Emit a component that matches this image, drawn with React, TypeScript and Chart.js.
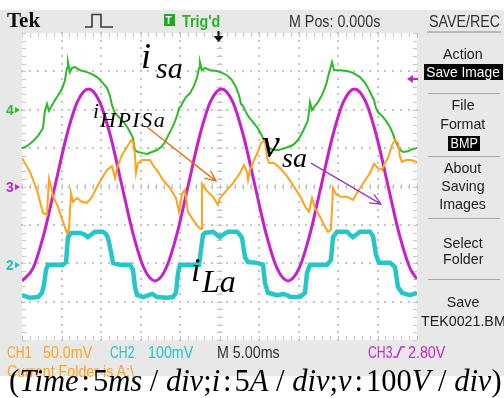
import React, { useEffect, useRef } from "react";
import { Chart, registerables } from "chart.js";
Chart.register(...registerables);

// Screen scales: time in ms (5 ms/div, 10 div), amplitude in screen divisions (8 div)
const TIME_MIN_MS = 0;
const TIME_MAX_MS = 50;
const DIV_MIN = -4;
const DIV_MAX = 4;

// v_sa (CH3, magenta) — screen divisions
const vsaT = [0, 1.40, 2.81, 4.21, 5.61, 7.02, 8.42, 9.82, 11.23, 12.63, 14.03, 15.44, 16.84, 18.24, 19.65, 21.05, 22.45, 23.86, 25.26, 26.66, 28.07, 29.47, 30.87, 32.28, 33.68, 35.08, 36.49, 37.89, 39.29, 40.70, 42.10, 43.50, 44.91, 46.31, 47.71, 49.12, 50.0];
const vsaDiv = [-2.46, -2.13, -1.21, 0.04, 1.29, 2.21, 2.54, 2.21, 1.29, 0.04, -1.21, -2.13, -2.46, -2.13, -1.21, 0.04, 1.29, 2.21, 2.54, 2.21, 1.29, 0.04, -1.21, -2.13, -2.46, -2.13, -1.21, 0.04, 1.29, 2.21, 2.54, 2.21, 1.29, 0.04, -1.21, -2.13, -2.41];

// i_sa (CH4, green)
const isaT = [0, 0.63, 1.39, 2.03, 2.66, 2.91, 3.16, 3.42, 3.80, 4.43, 5.06, 5.44, 5.70, 5.82, 6.08, 6.33, 6.71, 7.34, 8.23, 8.86, 9.49, 10.13, 10.76, 11.14, 11.39, 11.77, 12.41, 13.04, 13.42, 13.80, 14.05, 14.30, 14.68, 15.32, 15.82, 16.46, 17.09, 17.72, 18.10, 18.48, 18.86, 19.24, 19.62, 19.87, 20.13, 20.38, 20.76, 21.27, 21.77, 22.15, 22.41, 22.53, 22.78, 23.16, 23.80, 24.68, 25.32, 25.95, 26.58, 27.09, 27.47, 27.72, 27.97, 28.23, 28.61, 29.11, 29.75, 30.25, 30.63, 31.14, 31.77, 32.41, 33.04, 33.67, 34.30, 34.94, 35.44, 35.82, 36.20, 36.46, 36.71, 37.09, 37.47, 37.97, 38.48, 38.86, 39.11, 39.24, 39.49, 40.25, 41.14, 41.90, 42.78, 43.42, 43.80, 44.18, 44.56, 44.81, 45.06, 45.57, 46.08, 46.58, 46.96, 47.22, 47.59, 47.85, 48.23, 48.86, 49.49, 50.0];
const isaDiv = [1.00, 1.05, 1.18, 1.32, 1.52, 1.99, 2.15, 1.97, 2.12, 2.33, 2.54, 2.77, 3.09, 3.24, 2.98, 3.09, 3.11, 3.03, 2.98, 2.93, 2.85, 2.72, 2.57, 2.36, 2.12, 1.91, 1.78, 1.63, 1.52, 1.37, 1.26, 0.95, 0.90, 0.87, 0.85, 0.90, 0.95, 1.05, 1.16, 1.32, 1.47, 1.63, 1.84, 2.04, 2.10, 2.20, 2.33, 2.43, 2.62, 2.83, 3.09, 3.24, 3.03, 3.09, 3.03, 3.01, 2.96, 2.90, 2.77, 2.59, 2.38, 2.15, 2.10, 1.99, 1.84, 1.71, 1.55, 1.37, 1.21, 1.03, 0.95, 0.95, 0.98, 1.03, 1.08, 1.21, 1.39, 1.55, 1.73, 2.20, 1.99, 2.10, 2.20, 2.38, 2.64, 2.96, 3.14, 3.24, 3.03, 3.03, 3.01, 2.96, 2.85, 2.70, 2.57, 2.41, 2.25, 2.04, 1.94, 1.84, 1.71, 1.55, 1.37, 1.21, 1.05, 0.95, 0.90, 0.92, 0.98, 1.00];

// i_HPISa (CH1, orange)
const hpiT = [0, 0.38, 1.01, 1.90, 2.66, 3.16, 3.42, 3.67, 3.92, 4.56, 5.19, 5.70, 5.95, 6.20, 6.46, 6.96, 7.59, 8.23, 8.86, 9.49, 10.13, 10.76, 11.39, 11.77, 12.03, 12.66, 13.29, 13.80, 14.05, 14.30, 14.43, 14.68, 15.19, 16.20, 16.58, 17.22, 17.85, 18.73, 19.49, 19.87, 20.25, 20.63, 21.01, 21.65, 22.28, 22.66, 22.78, 23.42, 24.18, 24.81, 25.06, 25.95, 26.71, 27.59, 28.10, 28.48, 28.61, 28.86, 29.37, 29.87, 30.25, 30.76, 31.01, 31.27, 31.90, 32.66, 33.54, 34.30, 35.19, 35.95, 36.33, 36.71, 37.09, 37.72, 38.35, 38.73, 39.11, 39.37, 39.75, 40.38, 41.14, 41.90, 42.41, 43.16, 44.05, 44.56, 45.06, 45.57, 45.95, 46.33, 46.84, 47.22, 47.59, 47.85, 48.10, 48.61, 49.24, 50.0];
const hpiDiv = [0.74, 0.61, 0.38, -0.09, -0.69, -0.74, 0.20, 0.01, -0.25, -0.53, -0.92, -1.21, -1.13, -0.17, -0.40, -0.30, -0.40, -0.43, -0.27, -0.01, 0.22, 0.43, 0.53, 0.22, 0.48, 0.82, 1.03, 1.21, 1.16, 0.82, 0.35, 0.61, 0.69, 0.69, 0.56, 0.38, 0.17, -0.04, -0.30, -0.66, -0.20, -0.09, -0.66, -0.87, -1.05, -1.11, 0.07, -0.12, -0.27, -0.48, -0.30, -0.09, 0.09, 0.35, 0.56, 0.38, 0.17, 0.43, 0.69, 0.90, 1.13, 1.21, 0.77, 0.61, 0.61, 0.48, 0.27, 0.04, -0.25, -0.56, -0.66, -0.30, -0.56, -0.79, -1.05, -1.18, -1.13, -0.04, -0.20, -0.27, -0.27, -0.35, -0.17, 0.07, 0.35, 0.59, 0.48, 0.43, 0.61, 0.74, 1.08, 1.21, 1.13, 0.77, 0.64, 0.69, 0.69, 0.64];

// i_La (CH2, cyan)
const ilaT = [0, 1.01, 2.03, 2.53, 2.78, 3.04, 3.29, 5.19, 5.57, 5.82, 6.20, 7.34, 7.97, 8.35, 8.86, 9.24, 10.25, 10.63, 10.89, 11.27, 11.52, 12.41, 13.67, 14.05, 14.30, 14.56, 15.32, 16.46, 17.09, 18.35, 19.11, 19.49, 19.75, 20.0, 22.41, 22.66, 22.91, 23.16, 24.18, 24.68, 25.06, 25.57, 26.08, 27.22, 27.59, 27.85, 28.23, 28.61, 29.75, 30.51, 30.76, 31.14, 32.28, 33.04, 33.54, 33.92, 35.19, 35.82, 36.08, 36.46, 38.61, 39.11, 39.37, 39.87, 41.14, 41.52, 41.90, 42.41, 42.78, 44.05, 44.43, 44.81, 45.19, 46.58, 47.22, 47.59, 48.10, 49.11, 50.0];
const ilaDiv = [-2.83, -2.90, -2.88, -2.77, -2.57, -2.17, -2.04, -2.04, -1.97, -1.32, -1.21, -1.21, -1.26, -1.32, -1.24, -1.18, -1.18, -1.24, -1.34, -1.71, -1.99, -2.04, -2.04, -2.17, -2.62, -2.83, -2.88, -2.80, -2.88, -2.90, -2.88, -2.77, -2.25, -2.04, -2.04, -1.65, -1.26, -1.21, -1.18, -1.26, -1.32, -1.24, -1.18, -1.18, -1.26, -1.34, -1.84, -1.97, -1.99, -2.04, -2.51, -2.77, -2.83, -2.80, -2.83, -2.88, -2.88, -2.77, -2.25, -2.04, -2.04, -1.91, -1.32, -1.18, -1.18, -1.26, -1.32, -1.24, -1.18, -1.18, -1.29, -1.78, -1.99, -1.99, -2.10, -2.62, -2.77, -2.83, -2.77];

// annotation arrows [time ms, div]
const hpiArrowFrom = [15.82, 1.55];
const hpiArrowTo = [24.56, 0.14];
const vsaArrowFrom = [36.58, 0.61];
const vsaArrowTo = [45.44, -0.46];

const SANS = '"Liberation Sans", Arial, sans-serif';
const SERIF = '"Liberation Serif", "Times New Roman", serif';

type TP = { x: number; base: number; size: number; color: string; text: string; align?: "left" | "center"; sx?: number; bold?: boolean };
function T({ x, base, size, color, text, align = "left", sx = 0.84, bold = false }: TP) {
  const top = base - 0.846 * size;
  const style: React.CSSProperties = {
    position: "absolute",
    top,
    left: align === "center" ? x - 100 : x,
    width: align === "center" ? 200 : undefined,
    textAlign: align,
    lineHeight: `${size}px`,
    height: size,
    fontSize: size,
    fontFamily: SANS,
    color,
    fontWeight: bold ? 700 : 400,
    whiteSpace: "pre",
  };
  return (
    <div style={style}>
      <span style={{ display: "inline-block", transform: `scaleX(${sx})`, transformOrigin: align === "center" ? "center" : "left" }}>{text}</span>
    </div>
  );
}

type SP = { x: number; base: number; size: number; text: string; ls?: number };
function M({ x, base, size, text, ls = 0 }: SP) {
  return (
    <div style={{ position: "absolute", left: x, top: base - 0.84 * size, fontFamily: SERIF, fontStyle: "italic", fontSize: size, lineHeight: `${size}px`, color: "#000", whiteSpace: "pre", letterSpacing: ls }}>{text}</div>
  );
}

export default function App() {
  const ref = useRef<HTMLCanvasElement>(null);
  useEffect(() => {
    document.body.style.margin = "0";
    const pts = (t: number[], v: number[]) => t.slice(0, Math.min(t.length, v.length)).map((x, i) => ({ x, y: v[i] }));
    const gridPlugin = {
      id: "tekGrid",
      beforeDatasetsDraw(chart: any) {
        const { ctx, chartArea } = chart;
        const { left, top, right, bottom } = chartArea;
        const w = right - left, h = bottom - top;
        ctx.save();
        ctx.fillStyle = "#ffffff";
        ctx.fillRect(left, top, w, h);
        ctx.fillStyle = "#c4c4c4";
        for (let i = 1; i < 10; i++) {
          const x = left + (i * w) / 10;
          for (let j = 0; j <= 40; j++) {
            const y = top + (j * h) / 40;
            ctx.fillRect(Math.round(x) - 1, Math.round(y) - 1, 2, 2);
          }
        }
        for (let k = 1; k < 8; k++) {
          const y = top + (k * h) / 8;
          for (let j = 0; j <= 50; j++) {
            const x = left + (j * w) / 50;
            ctx.fillRect(Math.round(x) - 1, Math.round(y) - 1, 2, 2);
          }
        }
        ctx.strokeStyle = "#c4c4c4";
        ctx.lineWidth = 1;
        ctx.beginPath();
        const cx = left + w / 2, cy = top + h / 2;
        for (let j = 0; j <= 50; j++) {
          const x = Math.round(left + (j * w) / 50) + 0.5;
          ctx.moveTo(x, top); ctx.lineTo(x, top + 4);
          ctx.moveTo(x, bottom - 4); ctx.lineTo(x, bottom);
          ctx.moveTo(x, cy - 3); ctx.lineTo(x, cy + 3);
        }
        for (let j = 0; j <= 40; j++) {
          const y = Math.round(top + (j * h) / 40) + 0.5;
          ctx.moveTo(left, y); ctx.lineTo(left + 4, y);
          ctx.moveTo(right - 4, y); ctx.lineTo(right, y);
          ctx.moveTo(cx - 3, y); ctx.lineTo(cx + 3, y);
        }
        ctx.stroke();
        ctx.restore();
      },
    };
    const arrowPlugin = {
      id: "tekArrows",
      afterDatasetsDraw(chart: any) {
        const { ctx } = chart;
        const xs = chart.scales.x, ys = chart.scales.y;
        const draw = (from: number[], to: number[], color: string) => {
          const x1 = xs.getPixelForValue(from[0]), y1 = ys.getPixelForValue(from[1]);
          const x2 = xs.getPixelForValue(to[0]), y2 = ys.getPixelForValue(to[1]);
          const a = Math.atan2(y2 - y1, x2 - x1);
          const L = 12, sp = 0.42;
          ctx.save();
          ctx.strokeStyle = color;
          ctx.lineWidth = 1.3;
          ctx.beginPath();
          ctx.moveTo(x1, y1); ctx.lineTo(x2, y2);
          ctx.moveTo(x2 - L * Math.cos(a - sp), y2 - L * Math.sin(a - sp));
          ctx.lineTo(x2, y2);
          ctx.lineTo(x2 - L * Math.cos(a + sp), y2 - L * Math.sin(a + sp));
          ctx.stroke();
          ctx.restore();
        };
        draw(hpiArrowFrom, hpiArrowTo, "rgb(228,108,22)");
        draw(vsaArrowFrom, vsaArrowTo, "rgb(150,55,210)");
      },
    };
    const chart = new Chart(ref.current as HTMLCanvasElement, {
      type: "line",
      data: {
        datasets: [
          { label: "i_HPISa", data: pts(hpiT, hpiDiv), borderColor: "rgb(255,162,28)", borderWidth: 2, tension: 0, pointRadius: 0 },
          { label: "i_La", data: pts(ilaT, ilaDiv), borderColor: "rgb(38,198,200)", borderWidth: 4.5, tension: 0, pointRadius: 0 },
          { label: "i_sa", data: pts(isaT, isaDiv), borderColor: "rgb(44,186,40)", borderWidth: 2, tension: 0, pointRadius: 0 },
          { label: "v_sa", data: pts(vsaT, vsaDiv), borderColor: "rgb(198,32,200)", borderWidth: 3, cubicInterpolationMode: "monotone", pointRadius: 0 },
        ],
      },
      options: {
        responsive: false,
        animation: false,
        events: [],
        layout: { padding: 2 },
        plugins: { legend: { display: false }, tooltip: { enabled: false } },
        scales: {
          x: { type: "linear", min: TIME_MIN_MS, max: TIME_MAX_MS, display: false },
          y: { type: "linear", min: DIV_MIN, max: DIV_MAX, display: false },
        },
      },
      plugins: [gridPlugin, arrowPlugin],
    } as any);
    return () => chart.destroy();
  }, []);

  const menuC = 463;
  const menuCol = "#222";
  const sep = (y: number) => <div style={{ position: "absolute", left: 428, top: y, width: 72, height: 1, background: "#a8a8a8" }} />;
  const colon = <span style={{ margin: "0 3px" }}>:</span>;

  return (
    <div style={{ position: "fixed", left: 0, top: 0, width: 504, height: 398, background: "#fff", overflow: "hidden" }}>
      <div style={{ position: "absolute", left: 0, top: 10, width: 504, height: 366, background: "#e8e8e8" }} />
      <canvas ref={ref} width={399} height={311} style={{ position: "absolute", left: 20, top: 31, width: 399, height: 311 }} />
      <svg width={504} height={398} style={{ position: "absolute", left: 0, top: 0 }}>
        <polyline points="85,27 92,27 92,14.5 101,14.5 101,27 113,27" fill="none" stroke="#3a3a3a" strokeWidth={1.6} />
        <rect x={164} y={14} width={11} height={12} fill="rgb(30,172,30)" />
        <line x1={218.5} y1={31} x2={218.5} y2={37} stroke="#111" strokeWidth={2} />
        <polygon points="213.5,36 223.5,36 218.5,42" fill="#111" />
        <polygon points="407,79 413,75 413,83" fill="rgb(198,32,200)" />
        <line x1={412} y1={79} x2={418} y2={79} stroke="rgb(198,32,200)" strokeWidth={2} />
        <polygon points="15,107 15,113 20,110" fill="rgb(44,186,40)" />
        <polygon points="15,184 15,190 20,187" fill="rgb(198,32,200)" />
        <polygon points="15,262 15,268 20,265" fill="rgb(38,190,195)" />
        <polyline points="393,357 397,357 401,347 405,347" fill="none" stroke="rgb(200,40,200)" strokeWidth={1.6} />
        <line x1={427} y1={32} x2={501} y2={32} stroke="#8a8a8a" strokeWidth={1} />
      </svg>

      {/* header */}
      <div style={{ position: "absolute", left: 7, top: 28 - 0.84 * 21, fontFamily: SERIF, fontWeight: 700, fontSize: 21, lineHeight: "21px", color: "#111" }}>Tek</div>
      <T x={165.5} base={24.5} size={10} color="#fff" text="T" sx={1} bold />
      <T x={182} base={27} size={17} color="rgb(40,178,40)" text="Trig'd" bold sx={0.84} />
      <T x={289} base={27} size={17} color="#333" text="M Pos: 0.000s" />
      <T x={429} base={27} size={17} color="#333" text="SAVE/REC" />

      {/* channel markers */}
      <T x={6} base={115} size={14} color="rgb(44,186,40)" text="4" bold sx={1} />
      <T x={6} base={192} size={14} color="rgb(198,32,200)" text="3" bold sx={1} />
      <T x={6} base={270} size={14} color="rgb(38,190,195)" text="2" bold sx={1} />

      {/* right menu */}
      <T x={menuC} base={59} size={15} color={menuCol} text="Action" align="center" sx={0.95} />
      <div style={{ position: "absolute", left: 424, top: 64, width: 79, height: 16, background: "#000" }} />
      <T x={menuC} base={77} size={15} color="#fff" text="Save Image" align="center" sx={0.92} />
      {sep(93)}
      <T x={menuC} base={110} size={15} color={menuCol} text="File" align="center" sx={0.95} />
      <T x={menuC} base={129} size={15} color={menuCol} text="Format" align="center" sx={0.95} />
      <div style={{ position: "absolute", left: 448, top: 136, width: 32, height: 15, background: "#000" }} />
      <T x={464} base={148} size={14} color="#fff" text="BMP" align="center" sx={0.9} />
      {sep(156)}
      <T x={menuC} base={173} size={15} color={menuCol} text="About" align="center" sx={0.95} />
      <T x={menuC} base={191} size={15} color={menuCol} text="Saving" align="center" sx={0.95} />
      <T x={menuC} base={209} size={15} color={menuCol} text="Images" align="center" sx={0.95} />
      {sep(218)}
      <T x={menuC} base={248} size={15} color={menuCol} text="Select" align="center" sx={0.95} />
      <T x={menuC} base={264} size={15} color={menuCol} text="Folder" align="center" sx={0.95} />
      {sep(279)}
      <T x={menuC} base={307} size={15} color={menuCol} text="Save" align="center" sx={0.95} />
      <T x={421} base={326} size={15} color={menuCol} text="TEK0021.BMP" sx={0.95} />

      {/* status line */}
      <T x={7} base={358} size={17} color="rgb(250,165,40)" text="CH1" sx={0.72} />
      <T x={43} base={358} size={17} color="rgb(250,165,40)" text="50.0mV" />
      <T x={110} base={358} size={17} color="rgb(40,195,200)" text="CH2" sx={0.72} />
      <T x={148} base={358} size={17} color="rgb(40,195,200)" text="100mV" />
      <T x={217} base={358} size={17} color="#333" text="M 5.00ms" />
      <T x={368} base={358} size={17} color="rgb(200,40,200)" text="CH3" sx={0.72} />
      <T x={408} base={358} size={17} color="rgb(200,40,200)" text="2.80V" />
      <T x={7} base={377} size={17} color="rgb(250,165,40)" text={"Current Folder is A:\\"} />

      {/* trace labels */}
      <M x={141} base={68} size={36} text="i" />
      <M x={156} base={78} size={30} text="sa" />
      <M x={93} base={118} size={22} text="i" />
      <M x={100} base={127} size={22} text="HPISa" ls={1.5} />
      <M x={262} base={158} size={40} text="v" />
      <M x={282} base={168} size={28} text="sa" />
      <M x={191} base={282} size={34} text="i" />
      <M x={202} base={292} size={32} text="La" />

      {/* caption */}
      <div style={{ position: "absolute", left: 9, top: 392 - 0.84 * 30.5, fontFamily: SERIF, fontSize: 30.5, lineHeight: "30.5px", color: "#000", whiteSpace: "pre" }}>
        (<i>Time</i>{colon}5<i>ms</i> / <i>div</i>;<i>i</i>{colon}5<i>A</i> / <i>div</i>;<i>v</i>{colon}100<i>V</i> / <i>div</i>)
      </div>
    </div>
  );
}
